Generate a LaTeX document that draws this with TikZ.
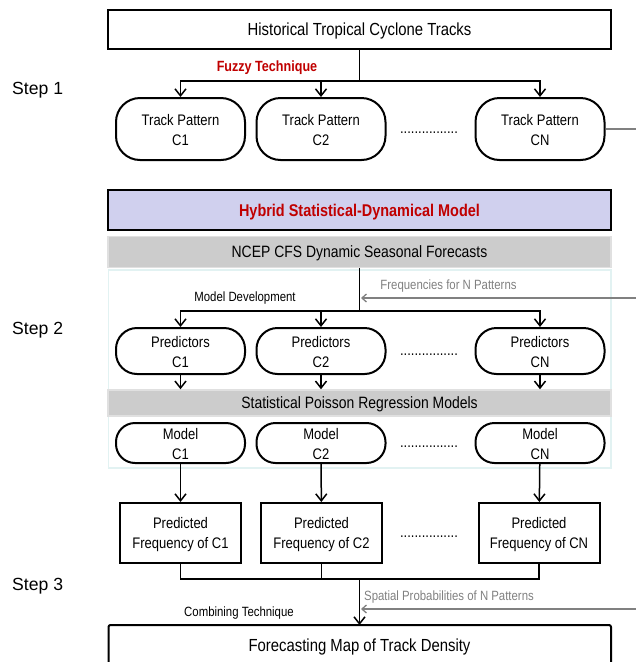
\documentclass[tikz,border=0pt]{standalone}
\usepackage{fontspec}
\setmainfont{Liberation Sans}
\newfontfamily\cf{Liberation Sans}[FakeStretch=0.85]
\usetikzlibrary{arrows.meta}
\definecolor{hyb}{RGB}{208,208,238}
\definecolor{band}{RGB}{204,204,204}
\definecolor{bandline}{RGB}{224,224,224}
\definecolor{framec}{RGB}{226,242,242}
\definecolor{redt}{RGB}{192,0,0}
\definecolor{grayt}{RGB}{128,128,128}
\newcommand{\upln}{\rule{0pt}{13.5pt}}
\tikzset{
  bigbox/.style={draw, line width=2pt, minimum width=503pt, minimum height=39pt, inner sep=0pt, text depth=0pt,
    font=\cf\fontsize{17.5}{20}\selectfont},
  hybbox/.style={draw, fill=hyb, line width=2.2pt, minimum width=503pt, minimum height=40pt, inner sep=0pt, text depth=0pt,
    text=redt, font=\cf\bfseries\fontsize{17}{20}\selectfont},
  bandbox/.style={draw=bandline, fill=band, line width=1.5pt, minimum width=503pt, inner sep=0pt, text depth=0pt,
    font=\cf\fontsize{16.4}{20}\selectfont},
  pillbox/.style={draw, line width=2pt, minimum width=129pt, align=center, inner sep=0pt,
    font=\cf\fontsize{15.3}{20}\selectfont},
  pillA/.style={pillbox, rounded corners=24pt, minimum height=62pt},
  pillB/.style={pillbox, rounded corners=21pt, minimum height=46pt},
  pillC/.style={pillbox, rounded corners=19pt, minimum height=40pt},
  predbox/.style={draw, line width=2pt, minimum width=121pt, minimum height=60pt, align=center, inner sep=0pt,
    font=\cf\fontsize{15.3}{20}\selectfont},
  dotsl/.style={inner sep=0pt, anchor=base, font=\cf\fontsize{15.3}{20}\selectfont},
  lbl/.style={inner sep=0pt, text depth=0pt, font=\cf\fontsize{13.4}{15}\selectfont},
  glbl/.style={lbl, text=grayt},
  redlbl/.style={inner sep=0pt, text depth=0pt, text=redt, font=\cf\bfseries\fontsize{14.8}{17}\selectfont},
  steplbl/.style={inner sep=0pt, text depth=0pt, anchor=west, font=\fontsize{17.6}{20}\selectfont},
  ln/.style={line width=1.5pt},
  arr/.style={line width=1.5pt, -{Straight Barb[length=7pt,width=11pt]}},
  gln/.style={line width=1.3pt, draw=grayt},
  garr/.style={line width=1.3pt, draw=grayt, -{Straight Barb[length=4.5pt,width=8pt]}},
}
\begin{document}
\begin{tikzpicture}[x=1pt,y=-1pt]
\useasboundingbox (0,0) rectangle (636,662);
% frame of step 2
\draw[draw=framec, line width=1.5pt] (108.5,270) rectangle (611,468);

% Step labels
\node[steplbl] (s1) at (12,88) {Step 1};
\node[steplbl] (s2) at (12,328) {Step 2};
\node[steplbl] (s3) at (12,584) {Step 3};

% Step 1
\node[bigbox] (top) at (359.5,29.5) {Historical Tropical Cyclone Tracks};
\node[redlbl] (fz) at (267,66) {Fuzzy Technique};
\node[pillA] (t1) at (180.5,129) {\upln Track Pattern\\C1};
\node[pillA] (t2) at (321,129) {\upln Track Pattern\\C2};
\node[pillA] (tn) at (540,129) {\upln Track Pattern\\CN};
\node[dotsl] (d1) at (429,133) {................};
\coordinate (j1) at (359.5,81);
\draw[ln] (top.south) -- (j1);
\draw[arr] (j1) -| (t1);
\draw[arr] (j1) -| (t2);
\draw[arr] (j1) -| (tn);
\coordinate (e1) at (637,129);
\draw[gln] (tn.east) -- (e1);

% Step 2
\node[hybbox] (hyb) at (359.5,210) {Hybrid Statistical-Dynamical Model};
\node[bandbox, minimum height=31pt] (ncep) at (359.5,252) {NCEP CFS Dynamic Seasonal Forecasts};
\coordinate (j2) at (359.5,311);
\draw[ln] (ncep.south) -- (j2);
\node[lbl] (md) at (245,297) {Model Development};
\node[glbl] (fq) at (448.5,285) {Frequencies for N Patterns};
\coordinate (e2) at (637,298);
\coordinate (a2) at (361,298);
\draw[garr] (e2) -- (a2);
\node[pillB] (p1) at (180.5,351) {\upln Predictors\\C1};
\node[pillB] (p2) at (321,351) {\upln Predictors\\C2};
\node[pillB] (pn) at (540,351) {\upln Predictors\\CN};
\node[dotsl] (d2) at (429,355) {................};
\draw[arr] (j2) -| (p1);
\draw[arr] (j2) -| (p2);
\draw[arr] (j2) -| (pn);
\node[bandbox, minimum height=26pt] (pois) at (359.5,403) {Statistical Poisson Regression Models};
\draw[arr] (p1) -- (p1 |- pois.north);
\draw[arr] (p2) -- (p2 |- pois.north);
\draw[arr] (pn) -- (pn |- pois.north);
\node[pillC] (m1) at (180.5,443) {\upln Model\\C1};
\node[pillC] (m2) at (321,443) {\upln Model\\C2};
\node[pillC] (mn) at (540,443) {\upln Model\\CN};
\node[dotsl] (d3) at (429,447) {................};

% Step 3
\node[predbox] (f1) at (180.5,533) {\upln Predicted\\Frequency of C1};
\node[predbox] (f2) at (321.5,533) {\upln Predicted\\Frequency of C2};
\node[predbox] (fn) at (539,533) {\upln Predicted\\Frequency of CN};
\node[dotsl] (d4) at (429,537) {................};
\draw[arr] (m1) -- (f1);
\draw[arr] (m2) -- (f2);
\draw[arr] (mn) -- (fn);
\coordinate (j3) at (359.5,579);
\draw[ln] (f1.south) |- (j3);
\draw[ln] (fn.south) |- (j3);
\draw[ln] (f2.south) -- (f2.south |- j3);
\coordinate (fctop) at (359.5,625);
\draw[arr] (j3) -- (fctop);
\node[glbl] (sp) at (449,596) {Spatial Probabilities of N Patterns};
\coordinate (e3) at (637,609);
\coordinate (a3) at (361,609);
\draw[garr] (e3) -- (a3);
\node[lbl] (ct) at (239,612) {Combining Technique};
\draw[line width=2pt, rounded corners=2pt] (108.5,672) -- (108.5,625) -- (611,625) -- (611,672);
\node[inner sep=0pt, text depth=0pt, font=\cf\fontsize{17.5}{20}\selectfont] (fc) at (359.5,645) {Forecasting Map of Track Density};
\end{tikzpicture}
\end{document}
